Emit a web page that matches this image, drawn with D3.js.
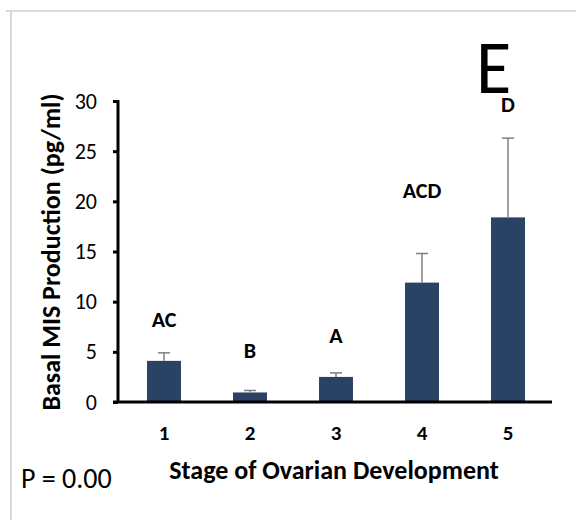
<!DOCTYPE html>
<html>
<head>
<meta charset="utf-8">
<script src="https://cdn.jsdelivr.net/npm/d3@7"></script>
<style>
  html, body { margin: 0; padding: 0; background: #fff; }
  svg { display: block; }
  text { font-family: Calibri, Carlito, "Open Sans", sans-serif; }
</style>
</head>
<body>
<script>
// ---- data ----
const stages = ["1", "2", "3", "4", "5"];
const means = [4.1, 0.95, 2.5, 11.9, 18.4];
const errors = [0.8, 0.2, 0.4, 2.9, 7.9];
const groupLetters = ["AC", "B", "A", "ACD", "D"];
const letterLevels = [7.5, 4.4, 5.9, 20.3, 28.9];
const yTicks = [0, 5, 10, 15, 20, 25, 30];

const W = 576, H = 520;
const FONT = 'Calibri, Carlito, "Open Sans", sans-serif';
const svg = d3.select("body").append("svg").attr("width", W).attr("height", H);

// panel frame lines
svg.append("line").attr("x1", 6).attr("x2", W).attr("y1", 11).attr("y2", 11)
  .attr("stroke", "#d9d9d9").attr("stroke-width", 2);
svg.append("line").attr("x1", 11).attr("x2", 11).attr("y1", 11).attr("y2", H)
  .attr("stroke", "#d9d9d9").attr("stroke-width", 2);

const x = d3.scaleBand().domain(stages).range([121, 551]).paddingInner(0.605).paddingOuter(0.3025);
const y = d3.scaleLinear().domain([0, 30]).range([402, 101]);

// bars
svg.selectAll("rect.bar").data(stages).enter().append("rect")
  .attr("class", "bar")
  .attr("x", d => x(d))
  .attr("width", x.bandwidth())
  .attr("y", (d, i) => y(means[i]))
  .attr("height", (d, i) => y(0) - y(means[i]))
  .attr("fill", "#2a4365");

// error bars
const eb = svg.append("g").attr("stroke", "#7f7f7f").attr("stroke-width", 1.5);
stages.forEach((d, i) => {
  const cx = x(d) + x.bandwidth() / 2;
  eb.append("line").attr("x1", cx).attr("x2", cx).attr("y1", y(means[i])).attr("y2", y(means[i] + errors[i]));
  eb.append("line").attr("x1", cx - 6).attr("x2", cx + 6).attr("y1", y(means[i] + errors[i])).attr("y2", y(means[i] + errors[i]));
});

// letters
svg.selectAll("text.letter").data(stages).enter().append("text")
  .attr("class", "letter")
  .attr("x", d => x(d) + x.bandwidth() / 2)
  .attr("y", (d, i) => y(letterLevels[i]))
  .attr("text-anchor", "middle")
  .attr("font-weight", "bold")
  .attr("font-size", 22)
  .text((d, i) => groupLetters[i]);

// y axis
const yAxis = svg.append("g").attr("transform", "translate(118,0)")
  .call(d3.axisLeft(y).tickValues(yTicks).tickSize(5).tickPadding(16).tickFormat(d3.format("d")));
yAxis.select(".domain").attr("stroke", "#000").attr("stroke-width", 3).attr("d", "M0," + (y(30) - 1) + "V" + y(0));
yAxis.selectAll(".tick line").attr("stroke", "#000").attr("stroke-width", 3);
yAxis.selectAll(".tick text").attr("font-size", 22).attr("fill", "#000").style("font-family", FONT);

// x axis
const xAxis = svg.append("g").attr("transform", "translate(0,402)")
  .call(d3.axisBottom(x).tickSize(0).tickPadding(23));
xAxis.select(".domain").attr("stroke", "#000").attr("stroke-width", 3).attr("d", "M113,0H552");
xAxis.selectAll(".tick text").attr("font-size", 21).attr("font-weight", "bold").attr("fill", "#000")
  .style("font-family", FONT);

// axis titles
svg.append("text").attr("x", 334).attr("y", 479).attr("text-anchor", "middle")
  .attr("font-weight", "bold").attr("font-size", 26).text("Stage of Ovarian Development");
svg.append("text").attr("transform", "translate(60,252) rotate(-90)").attr("text-anchor", "middle")
  .attr("font-weight", "bold").attr("font-size", 26).text("Basal MIS Production (pg/ml)");

// P value
svg.append("text").attr("x", 21).attr("y", 488).attr("font-size", 28).text("P = 0.00");

// panel letter
svg.append("text").attr("transform", "translate(476,93) scale(0.95,1)")
  .attr("font-size", 76).text("E");
</script>
</body>
</html>
